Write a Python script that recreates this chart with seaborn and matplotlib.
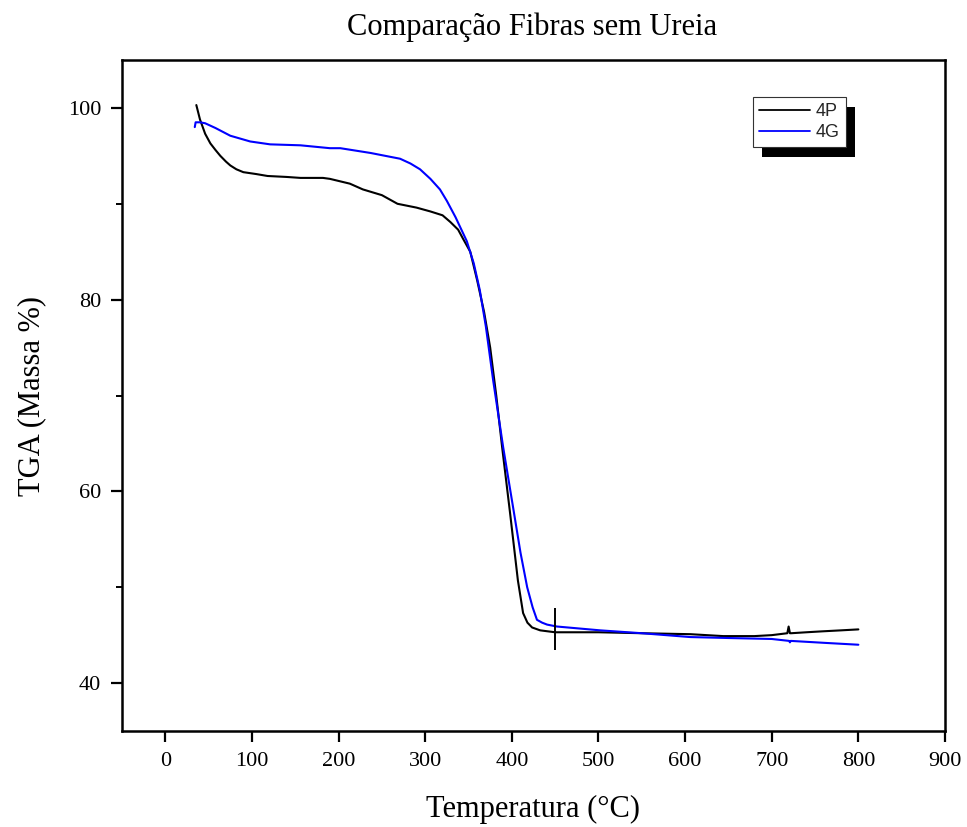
import numpy as np
import pandas as pd
import matplotlib
matplotlib.use("Agg")
import matplotlib.pyplot as plt
import seaborn as sns
from matplotlib.patches import Rectangle
from matplotlib.transforms import IdentityTransform
from matplotlib.ticker import MultipleLocator
from matplotlib.lines import Line2D

# ---- data ----
temp_4p = [35.8, 40, 46, 52, 58, 63.5, 70, 75, 82, 90, 105, 118, 140, 156, 182, 190, 213, 228, 250, 268,
           290, 306, 320, 329, 338, 344, 352, 360, 368, 375, 382, 388.8, 398, 407, 413, 418, 423.4, 432.7,
           450, 500, 550, 606, 644, 680, 700, 718, 719.5, 721, 722.5, 740, 759, 780, 800]
tga_4p = [100.3, 98.8, 97.3, 96.3, 95.6, 95.0, 94.4, 94.0, 93.6, 93.3, 93.1, 92.9, 92.8, 92.7, 92.7, 92.6,
          92.1, 91.5, 90.9, 90.0, 89.6, 89.2, 88.8, 88.1, 87.3, 86.3, 85.0, 82.0, 78.7, 75.0, 70.0, 64.6,
          57.7, 50.7, 47.3, 46.3, 45.8, 45.5, 45.3, 45.3, 45.2, 45.1, 44.9, 44.9, 45.0, 45.2, 45.9, 45.2,
          45.2, 45.3, 45.4, 45.5, 45.6]

temp_4g = [34, 35, 40, 46, 58, 75, 98, 121, 156, 190, 202, 237, 271, 283, 294, 306, 317, 325, 335, 348,
           356, 363, 370, 378.4, 390, 401.5, 410, 417.7, 424, 429, 435, 440.7, 452, 502, 550, 606, 650,
           700, 720, 721, 722, 760, 800]
tga_4g = [98.0, 98.5, 98.5, 98.4, 97.9, 97.1, 96.5, 96.2, 96.1, 95.8, 95.8, 95.3, 94.7, 94.2, 93.6, 92.6,
          91.5, 90.3, 88.6, 86.1, 83.8, 81.0, 77.2, 71.6, 64.6, 58.3, 53.6, 50.0, 47.9, 46.6, 46.3, 46.1,
          45.9, 45.5, 45.2, 44.8, 44.7, 44.6, 44.4, 44.25, 44.4, 44.2, 44.0]

marker_x = [450]
marker_ymin = [43.4]
marker_ymax = [47.8]

series_names = ["4P", "4G"]
series_colors = ["#000000", "#0000ff"]

df = pd.concat([
    pd.DataFrame({"Temperatura": temp_4p, "TGA": tga_4p, "Amostra": "4P"}),
    pd.DataFrame({"Temperatura": temp_4g, "TGA": tga_4g, "Amostra": "4G"}),
], ignore_index=True)

sns.set_theme(style="ticks")
plt.rcParams["font.family"] = ["Liberation Serif", "DejaVu Serif"]

fig = plt.figure(figsize=(9.67, 8.27), dpi=100)
ax = fig.add_axes([122 / 967, 1 - 731 / 827, (945 - 122) / 967, (731 - 60) / 827])

sns.lineplot(data=df, x="Temperatura", y="TGA", hue="Amostra", hue_order=series_names,
             palette=series_colors, sort=False, estimator=None, linewidth=1.5, ax=ax, legend=False)

ax.vlines(marker_x, marker_ymin, marker_ymax, colors="black", linewidth=1.4)

ax.set_xlim(-50, 900)
ax.set_ylim(35, 105)
ax.xaxis.set_major_locator(MultipleLocator(100))
ax.yaxis.set_major_locator(MultipleLocator(20))
ax.yaxis.set_minor_locator(MultipleLocator(10))

for s in ax.spines.values():
    s.set_visible(True)
    s.set_linewidth(1.8)
    s.set_color("black")
ax.tick_params(axis="both", which="major", direction="out", length=8, width=1.6,
               labelsize=16, colors="black", pad=7)
ax.tick_params(axis="y", which="minor", direction="out", length=4.5, width=1.4, colors="black")
ax.tick_params(axis="x", which="minor", length=0)

ax.set_xlabel("Temperatura (°C)", fontsize=22, labelpad=17, color="black")
ax.set_ylabel("TGA (Massa %)", fontsize=22, labelpad=15.5, color="black")
fig.text((122 + 945) / 2 / 967 - 0.002, 1 - 27 / 827, "Comparação Fibras sem Ureia",
         ha="center", va="center", fontsize=22, color="black")

handles = [Line2D([0], [0], color=c, lw=1.3) for c in series_colors]
leg = ax.legend(handles, series_names, loc="upper left",
                bbox_to_anchor=((753 - 122) / 823, (731 - 97) / 671),
                borderaxespad=0, frameon=True, fancybox=False, framealpha=1,
                edgecolor="#333333", prop={"family": "Liberation Sans", "size": 13},
                handlelength=2.8, handletextpad=0.3, borderpad=0.35, labelspacing=0.2)
leg.get_frame().set_linewidth(0.8)
leg.set_zorder(6)

fig.canvas.draw()
bb = leg.get_window_extent()
shadow = Rectangle((bb.x0 + 9, bb.y0 - 10), bb.width, bb.height, transform=IdentityTransform(),
                   facecolor="black", edgecolor="none", zorder=5)
ax.add_artist(shadow)

fig.savefig("out.png", dpi=100)
